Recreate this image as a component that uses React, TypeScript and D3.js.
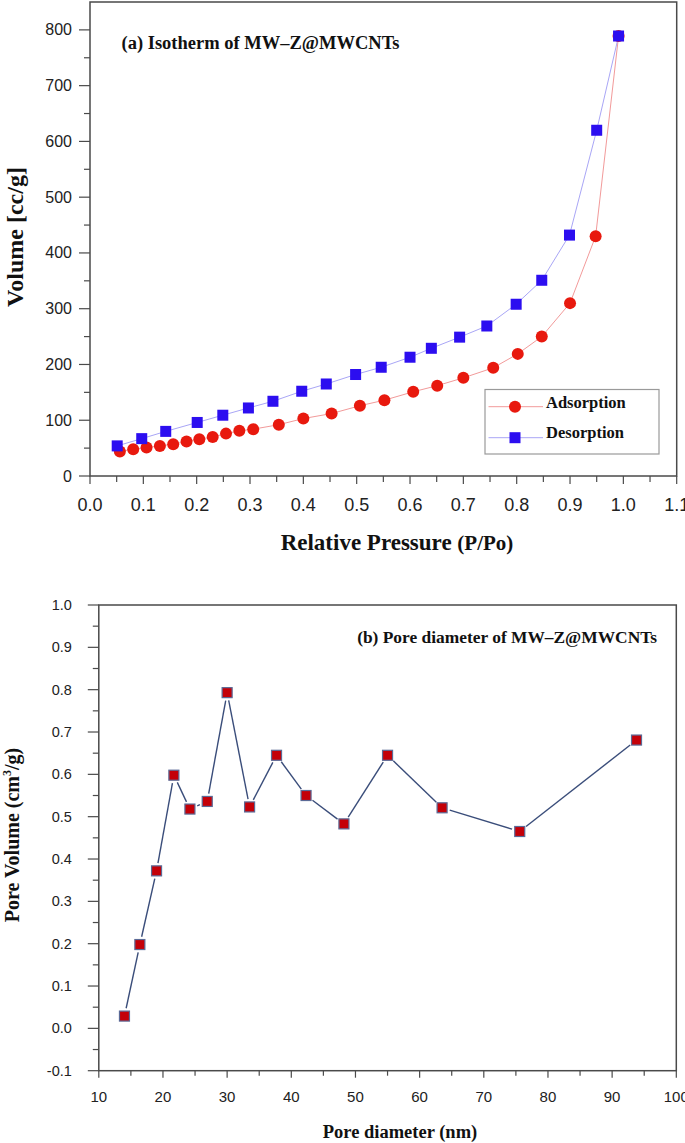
import React from 'react';
import * as d3 from 'd3';

// ---------- Data: (a) isotherm ----------
const adsP = [0.056, 0.081, 0.106, 0.131, 0.156, 0.181, 0.205, 0.23, 0.255, 0.28, 0.306, 0.354, 0.4, 0.453, 0.506, 0.552, 0.606, 0.651, 0.7, 0.756, 0.802, 0.847, 0.9, 0.948, 0.991];
const adsV = [44, 48, 51, 54, 57, 62, 66, 70, 76, 81, 84, 92, 103, 112, 126, 136, 151, 162, 176, 194, 219, 250, 310, 430, 789];
const desP = [0.051, 0.097, 0.142, 0.201, 0.249, 0.297, 0.343, 0.397, 0.443, 0.498, 0.546, 0.6, 0.64, 0.693, 0.744, 0.799, 0.847, 0.899, 0.95, 0.991];
const desV = [54, 67, 80, 96, 109, 122, 134, 152, 165, 182, 195, 213, 229, 249, 269, 308, 351, 432, 620, 789];

// ---------- Data: (b) pore diameter ----------
const poreD = [14.0, 16.4, 19.0, 21.7, 24.2, 26.9, 30.0, 33.5, 37.7, 42.3, 48.2, 55.0, 63.5, 75.6, 93.8];
const poreV = [0.029, 0.198, 0.372, 0.598, 0.518, 0.536, 0.793, 0.523, 0.645, 0.55, 0.483, 0.645, 0.521, 0.465, 0.681];

// ---------- Ticks ----------
const topXTicks = [0, 0.1, 0.2, 0.3, 0.4, 0.5, 0.6, 0.7, 0.8, 0.9, 1.0, 1.1];
const topXMinor = [0.05, 0.15, 0.25, 0.35, 0.45, 0.55, 0.65, 0.75, 0.85, 0.95, 1.05];
const topYTicks = [0, 100, 200, 300, 400, 500, 600, 700, 800];
const topYMinor = [50, 150, 250, 350, 450, 550, 650, 750];
const botXTicks = [10, 20, 30, 40, 50, 60, 70, 80, 90, 100];
const botXMinor = [15, 25, 35, 45, 55, 65, 75, 85, 95];
const botYTicks = [-0.1, 0, 0.1, 0.2, 0.3, 0.4, 0.5, 0.6, 0.7, 0.8, 0.9, 1.0];
const botYMinor = [-0.05, 0.05, 0.15, 0.25, 0.35, 0.45, 0.55, 0.65, 0.75, 0.85, 0.95];

const SERIF = "'Liberation Serif', 'Times New Roman', serif";
const SANS = "'Liberation Sans', Arial, sans-serif";
const FRAME = '#4a4a4a';

function TopChart() {
  const x = d3.scaleLinear().domain([0, 1.1]).range([90, 676.7]);
  const y = d3.scaleLinear().domain([0, 850]).range([476, 2]);
  const adsPath = d3.line<number>().x((d) => x(d)).y((_, i) => y(adsV[i]))(adsP) || '';
  const desPath = d3.line<number>().x((d) => x(d)).y((_, i) => y(desV[i]))(desP) || '';
  const [x0, x1] = x.range();
  const [y0, y1] = y.range();
  return (
    <g>
      <rect x={x0} y={y1} width={x1 - x0} height={y0 - y1} fill="none" stroke={FRAME} strokeWidth={1.5} />
      {topYTicks.map((t) => (
        <g key={'yt' + t}>
          <line x1={x0 - 11} x2={x0} y1={y(t)} y2={y(t)} stroke={FRAME} strokeWidth={1.2} />
          <text x={x0 - 18} y={y(t) + 5.5} textAnchor="end" fontFamily={SANS} fontSize={16} fill="#222">
            {String(t)}
          </text>
        </g>
      ))}
      {topYMinor.map((t) => (
        <line key={'ym' + t} x1={x0 - 6} x2={x0} y1={y(t)} y2={y(t)} stroke={FRAME} strokeWidth={1.2} />
      ))}
      {topXTicks.map((t) => (
        <g key={'xt' + t}>
          <line x1={x(t)} x2={x(t)} y1={y0} y2={y0 + 8} stroke={FRAME} strokeWidth={1.2} />
          <text x={x(t)} y={511} textAnchor="middle" fontFamily={SANS} fontSize={18} fill="#222">
            {t.toFixed(1)}
          </text>
        </g>
      ))}
      {topXMinor.map((t) => (
        <line key={'xm' + t} x1={x(t)} x2={x(t)} y1={y0} y2={y0 + 6} stroke={FRAME} strokeWidth={1.2} />
      ))}
      <path d={adsPath} fill="none" stroke="#f29a9a" strokeWidth={1} />
      <path d={desPath} fill="none" stroke="#a9a6f6" strokeWidth={1} />
      {adsP.map((p, i) => (
        <circle key={'a' + i} cx={x(p)} cy={y(adsV[i])} r={6} fill="#e8190e" />
      ))}
      {desP.map((p, i) => (
        <rect key={'d' + i} x={x(p) - 5.5} y={y(desV[i]) - 5.5} width={11} height={11} fill="#2c0ef0" />
      ))}
      <text x={121.5} y={49} fontFamily={SERIF} fontWeight="bold" fontSize={18.5} fill="#111">
        (a) Isotherm of MW–Z@MWCNTs
      </text>
      <rect x={485} y={389.5} width={174} height={64.5} fill="#fff" stroke="#9a9a9a" strokeWidth={1.2} />
      <line x1={488.5} x2={543} y1={406.7} y2={406.7} stroke="#f29a9a" strokeWidth={1} />
      <circle cx={515} cy={406.7} r={6} fill="#e8190e" />
      <text x={546} y={407.5} fontFamily={SERIF} fontWeight="bold" fontSize={16.5} fill="#111">
        Adsorption
      </text>
      <line x1={488.5} x2={543} y1={437.7} y2={437.7} stroke="#a9a6f6" strokeWidth={1} />
      <rect x={509.5} y={432.2} width={11} height={11} fill="#2c0ef0" />
      <text x={546} y={437.5} fontFamily={SERIF} fontWeight="bold" fontSize={16.5} fill="#111">
        Desorption
      </text>
      <text x={397} y={550} textAnchor="middle" fontFamily={SERIF} fontWeight="bold" fontSize={23} fill="#111">
        Relative Pressure <tspan fontSize={21}>(P/Po)</tspan>
      </text>
      <text
        transform="translate(23,237) rotate(-90)"
        textAnchor="middle"
        fontFamily={SERIF}
        fontWeight="bold"
        fontSize={24}
        fill="#111"
      >
        Volume [cc/g]
      </text>
    </g>
  );
}

function BottomChart() {
  const x = d3.scaleLinear().domain([10, 100]).range([98.8, 676.3]);
  const y = d3.scaleLinear().domain([-0.1, 1.0]).range([1070.7, 605]);
  const [x0, x1] = x.range();
  const [y0, y1] = y.range();
  const pts = poreD.map((d, i) => [x(d), y(poreV[i])] as [number, number]);
  const gap = 8;
  const segs = pts.slice(0, -1).map((p, i) => {
    const q = pts[i + 1];
    const dx = q[0] - p[0];
    const dy = q[1] - p[1];
    const len = Math.hypot(dx, dy);
    const ux = dx / len;
    const uy = dy / len;
    if (len <= 2 * gap) return null;
    return { x1: p[0] + ux * gap, y1: p[1] + uy * gap, x2: q[0] - ux * gap, y2: q[1] - uy * gap };
  });
  return (
    <g>
      <rect x={x0} y={y1} width={x1 - x0} height={y0 - y1} fill="none" stroke={FRAME} strokeWidth={1.5} />
      {botYTicks.map((t) => (
        <g key={'yt' + t}>
          <line x1={x0 - 11} x2={x0} y1={y(t)} y2={y(t)} stroke={FRAME} strokeWidth={1.2} />
          <text x={x0 - 27} y={y(t) + 5} textAnchor="end" fontFamily={SANS} fontSize={14.5} fill="#222">
            {t.toFixed(1)}
          </text>
        </g>
      ))}
      {botYMinor.map((t) => (
        <line key={'ym' + t} x1={x0 - 6} x2={x0} y1={y(t)} y2={y(t)} stroke={FRAME} strokeWidth={1.2} />
      ))}
      {botXTicks.map((t) => (
        <g key={'xt' + t}>
          <line x1={x(t)} x2={x(t)} y1={y0} y2={y0 + 7} stroke={FRAME} strokeWidth={1.2} />
          <text x={x(t)} y={1101.5} textAnchor="middle" fontFamily={SANS} fontSize={15} fill="#222">
            {String(t)}
          </text>
        </g>
      ))}
      {botXMinor.map((t) => (
        <line key={'xm' + t} x1={x(t)} x2={x(t)} y1={y0} y2={y0 + 5} stroke={FRAME} strokeWidth={1.2} />
      ))}
      {segs.map((s, i) =>
        s ? <line key={'s' + i} x1={s.x1} y1={s.y1} x2={s.x2} y2={s.y2} stroke="#3a4d7a" strokeWidth={1.4} /> : null
      )}
      {pts.map((p, i) => (
        <rect key={'p' + i} x={p[0] - 5} y={p[1] - 5} width={10} height={10} fill="#c40008" stroke="#5b6a96" strokeWidth={1.2} />
      ))}
      <text x={657} y={643} textAnchor="end" fontFamily={SERIF} fontWeight="bold" fontSize={17.4} fill="#111">
        (b) Pore diameter of MW–Z@MWCNTs
      </text>
      <text x={400} y={1138} textAnchor="middle" fontFamily={SERIF} fontWeight="bold" fontSize={18.5} fill="#111">
        Pore diameter (nm)
      </text>
      <text
        transform="translate(19,835) rotate(-90)"
        textAnchor="middle"
        fontFamily={SERIF}
        fontWeight="bold"
        fontSize={20}
        fill="#111"
      >
        Pore Volume (cm<tspan fontSize={12} dy={-8}>3</tspan>
        <tspan dy={8}>/g)</tspan>
      </text>
    </g>
  );
}

export default function App() {
  return (
    <svg
      width={685}
      height={1143}
      viewBox="0 0 685 1143"
      style={{ position: 'absolute', left: 0, top: 0, background: '#fff' }}
    >
      <rect x={0} y={0} width={685} height={1143} fill="#fff" />
      <TopChart />
      <BottomChart />
    </svg>
  );
}
